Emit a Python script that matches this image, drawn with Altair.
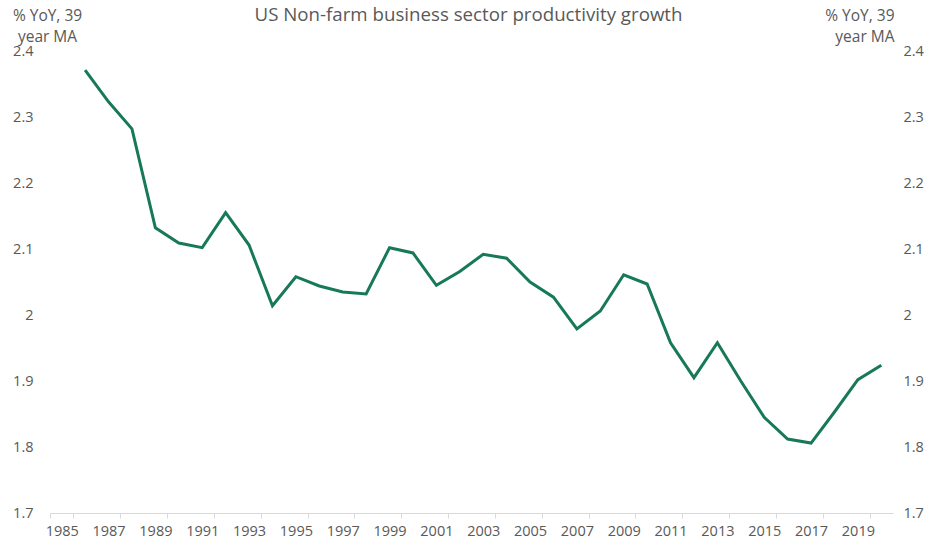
import altair as alt
import pandas as pd

years = list(range(1985, 2021))
values = [None, 2.371, 2.323, 2.282, 2.132, 2.109, 2.102, 2.155, 2.106, 2.014,
          2.058, 2.044, 2.035, 2.032, 2.102, 2.094, 2.045, 2.066, 2.092, 2.086,
          2.050, 2.027, 1.979, 2.006, 2.061, 2.047, 1.958, 1.905, 1.958, 1.900,
          1.845, 1.812, 1.806, 1.853, 1.902, 1.924]
label_years = [y for y in years if y % 2 == 1]
y_ticks = [1.7, 1.8, 1.9, 2.0, 2.1, 2.2, 2.3, 2.4]

df = pd.DataFrame({"year": years, "value": values}).dropna()

FONT = "Open Sans"
GRAY = "#595959"
GREEN = "#17795A"
axis_title = ["% YoY, 39", "year MA"]

x_enc = alt.X("year:O",
              scale=alt.Scale(domain=years, paddingInner=0, paddingOuter=0),
              axis=alt.Axis(values=label_years, tickBand="extent", title=None,
                            labelAngle=0, labelFont=FONT, labelFontSize=14.5,
                            labelColor=GRAY, domainColor="#d9d9d9", tickColor="#d9d9d9",
                            tickSize=5, labelPadding=6, labelBaseline="top"))

y_scale = alt.Scale(domain=[1.7, 2.4], nice=False, zero=False)

left = alt.Chart(df).mark_line(color=GREEN, strokeWidth=3).encode(
    x=x_enc,
    y=alt.Y("value:Q", scale=y_scale,
            axis=alt.Axis(orient="left", values=y_ticks, format=".1~f", grid=False,
                          domain=False, ticks=False, labelPadding=17,
                          labelFont=FONT, labelFontSize=14.5, labelColor=GRAY,
                          title=axis_title, titleAngle=0, titleAlign="center",
                          titleBaseline="top", titleX=-3, titleY=-43,
                          titleFont=FONT, titleFontSize=15.5, titleFontWeight="normal",
                          titleColor=GRAY, titleLineHeight=21))
)

right = alt.Chart(df).mark_line(opacity=0).encode(
    x=x_enc,
    y=alt.Y("value:Q", scale=y_scale,
            axis=alt.Axis(orient="right", values=y_ticks, format=".1~f", grid=False,
                          domain=False, ticks=False, labelPadding=10,
                          labelFont=FONT, labelFontSize=14.5, labelColor=GRAY,
                          title=axis_title, titleAngle=0, titleAlign="right",
                          titleBaseline="top", titleX=1, titleY=-43,
                          titleFont=FONT, titleFontSize=15.5, titleFontWeight="normal",
                          titleColor=GRAY, titleLineHeight=21))
)

chart = alt.layer(left, right).resolve_axis(y="independent").properties(
    width=843, height=462,
    title=alt.TitleParams("US Non-farm business sector productivity growth",
                          font=FONT, fontSize=18.7, fontWeight="normal", color=GRAY,
                          anchor="middle", offset=-17, dx=-3),
    autosize=alt.AutoSizeParams(type="none"),
    padding={"left": 50, "top": 51, "right": 41, "bottom": 35},
).configure_view(stroke=None)

chart.save("out.html", embed_options={"renderer": "svg", "actions": False})
